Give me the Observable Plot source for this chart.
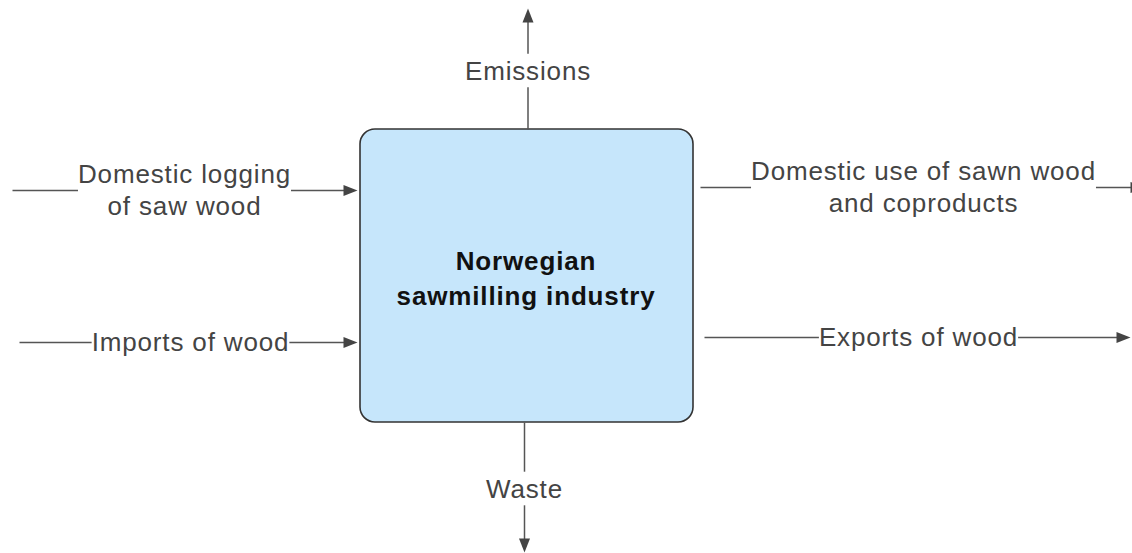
<!DOCTYPE html>
<html><head><meta charset="utf-8">
<script src="https://cdn.jsdelivr.net/npm/d3@7"></script>
<script src="https://cdn.jsdelivr.net/npm/@observablehq/plot@0.6"></script>
<style>
html,body{margin:0;padding:0;background:#fff;overflow:hidden;}
#chart svg{display:block;overflow:hidden;}
#chart svg text{letter-spacing:0.85px;}
</style></head><body><div id="chart"></div>
<script>
// ---- content (labels only) ----
const processLabel = "Norwegian\nsawmilling industry";
const inputFlows = ["Domestic logging\nof saw wood", "Imports of wood"];
const outputFlows = ["Domestic use of sawn wood\nand coproducts", "Exports of wood"];
const upFlows = ["Emissions"];
const downFlows = ["Waste"];

// ---- layout ----
const W = 1132, H = 553;
const FS = 26, LS = 0.85, FONT = "Liberation Sans, Arial, sans-serif";
const TY = -2; // text vertical nudge
const box = {x1: 360, y1: 129, x2: 693, y2: 422};
const cx = (box.x1 + box.x2) / 2, cy = (box.y1 + box.y2) / 2;
const ctx = document.createElement("canvas").getContext("2d");
ctx.font = `${FS}px "Liberation Sans"`;
const textW = s => Math.max(...s.split("\n").map(l => ctx.measureText(l).width + l.length * LS));

const inLayout = [{dy: 61, start: 12, lx: 184}, {dy: 213, start: 19, lx: 190}];
const outLayout = [{dy: 58, start: 7, lx: 923, end: 1144}, {dy: 208, start: 11, lx: 918, end: 1130}];

const segs = [], heads = [], labels = [];
inputFlows.forEach((t, i) => {
  const L = inLayout[i], y = box.y1 + L.dy, w = textW(t), tip = box.x1 - 3;
  segs.push({x1: L.start, y1: y, x2: L.lx - w / 2, y2: y}, {x1: L.lx + w / 2, y1: y, x2: tip - 6, y2: y});
  heads.push({x: tip, y, rot: 90});
  labels.push({x: L.lx, y: y + TY, text: t});
});
outputFlows.forEach((t, i) => {
  const L = outLayout[i], y = box.y1 + L.dy, w = textW(t);
  segs.push({x1: box.x2 + L.start, y1: y, x2: L.lx - w / 2, y2: y}, {x1: L.lx + w / 2, y1: y, x2: L.end - 6, y2: y});
  heads.push({x: L.end, y, rot: 90});
  labels.push({x: L.lx, y: y + TY, text: t});
});
upFlows.forEach(t => {
  const x = cx + 1, ly = 71, tip = 8;
  segs.push({x1: x, y1: box.y1, x2: x, y2: ly + 8.3 + 7.5}, {x1: x, y1: ly - 10.3 - 7.5, x2: x, y2: tip + 6});
  heads.push({x, y: tip, rot: 0});
  labels.push({x, y: ly + TY, text: t});
});
downFlows.forEach(t => {
  const x = cx - 2.5, ly = 489, tip = 552;
  segs.push({x1: x, y1: box.y2, x2: x, y2: ly - 10.3 - 7.5}, {x1: x, y1: ly + 8.3 + 7.5, x2: x, y2: tip - 6});
  heads.push({x, y: tip, rot: 180});
  labels.push({x, y: ly + TY, text: t});
});

const arrowHead = {draw(c) { c.moveTo(0, 0); c.lineTo(5.5, 14); c.lineTo(-5.5, 14); c.closePath(); }};

const chart = Plot.plot({
  width: W, height: H, margin: 0,
  x: {domain: [0, W], range: [0, W], axis: null},
  y: {domain: [0, H], range: [0, H], axis: null},
  style: {background: "#fff", fontFamily: FONT},
  marks: [
    Plot.rect([box], {x1: "x1", x2: "x2", y1: "y1", y2: "y2", rx: 15, fill: "#c6e6fb", stroke: "#333", strokeWidth: 1.6}),
    Plot.link(segs, {x1: "x1", y1: "y1", x2: "x2", y2: "y2", stroke: "#555", strokeWidth: 1.5}),
    Plot.dot(heads, {x: "x", y: "y", rotate: "rot", symbol: arrowHead, fill: "#444", stroke: "none", r: 5}),
    Plot.text(labels, {x: "x", y: "y", text: "text", fontSize: FS, fill: "#444", lineAnchor: "middle", lineHeight: 1.25, fontFamily: FONT}),
    Plot.text([processLabel], {x: () => cx - 1, y: () => cy + 0.5, text: d => d, fontSize: FS, fontWeight: "bold", fill: "#111", lineAnchor: "middle", lineHeight: 1.35, fontFamily: FONT})
  ]
});
document.getElementById("chart").append(chart);
</script></body></html>
